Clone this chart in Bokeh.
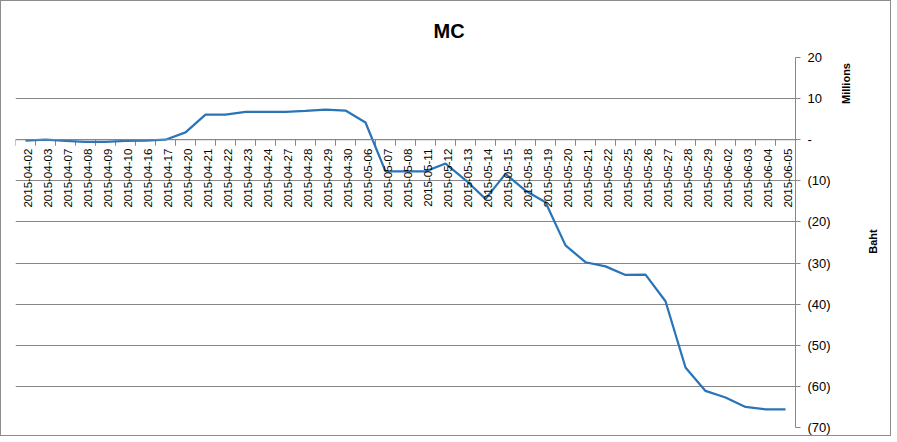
import math
from bokeh.plotting import figure
from bokeh.layouts import row
from bokeh.models import (Range1d, LinearAxis, FixedTicker, CustomJSTickFormatter,
                          Span, ColumnDataSource)
from bokeh.core.properties import value
from bokeh.embed import file_html
from bokeh.resources import INLINE

# ---- data ----
dates = ["2015-04-02", "2015-04-03", "2015-04-07", "2015-04-08", "2015-04-09",
         "2015-04-10", "2015-04-16", "2015-04-17", "2015-04-20", "2015-04-21",
         "2015-04-22", "2015-04-23", "2015-04-24", "2015-04-27", "2015-04-28",
         "2015-04-29", "2015-04-30", "2015-05-06", "2015-05-07", "2015-05-08",
         "2015-05-11", "2015-05-12", "2015-05-13", "2015-05-14", "2015-05-15",
         "2015-05-18", "2015-05-19", "2015-05-20", "2015-05-21", "2015-05-22",
         "2015-05-25", "2015-05-26", "2015-05-27", "2015-05-28", "2015-05-29",
         "2015-06-02", "2015-06-03", "2015-06-04", "2015-06-05"]
mc_millions = [-0.2, 0.0, -0.3, -0.5, -0.5, -0.3, -0.2, 0.0, 1.8, 6.1,
               6.1, 6.8, 6.8, 6.8, 7.0, 7.3, 7.1, 4.2, -7.7, -7.7,
               -7.7, -5.8, -9.8, -14.4, -8.3, -12.4, -15.2, -25.7, -29.8, -30.8,
               -32.9, -32.8, -39.3, -55.4, -61.1, -62.7, -65.0, -65.6, -65.6]
y_ticks = [20, 10, 0, -10, -20, -30, -40, -50, -60, -70]
title_text = "MC"
unit_label = "Millions"
axis_title = "Baht"

n = len(dates)
idx = list(range(n))
bounds = [i - 0.5 for i in range(n + 1)]

W_MAIN, W_SIDE, H = 835, 54, 434
LEFT, TOP, BOTTOM = 14, 56, 8
RIGHT = W_MAIN - 794
frame_h = H - TOP - BOTTOM
y_lo, y_hi = -70, 20
x_lo, x_hi = -0.5, n - 0.5
tick_len = 6 * (y_hi - y_lo) / frame_h


def px_to_y(py):
    return y_hi - (py - TOP) / frame_h * (y_hi - y_lo)


grid_color = "#878787"
line_color = "#2a74b8"
font = "Liberation Sans"

yr = Range1d(y_lo, y_hi)
p = figure(width=W_MAIN, height=H, output_backend="svg", toolbar_location=None,
           x_range=Range1d(x_lo, x_hi), y_range=yr,
           min_border_left=LEFT, min_border_right=RIGHT,
           min_border_top=TOP, min_border_bottom=BOTTOM,
           x_axis_location=None, y_axis_location=None)
p.outline_line_color = None
p.background_fill_color = "white"
p.border_fill_color = "white"

p.title.text = title_text
p.title.align = "left"
p.title.offset = 418
p.title.standoff = 31
p.title.text_font = font
p.title.text_font_size = "20px"
p.title.text_font_style = "bold"
p.title.text_color = "#000000"

ticker = FixedTicker(ticks=y_ticks)
yaxis = LinearAxis(ticker=ticker)
yaxis.formatter = CustomJSTickFormatter(code="""
    if (tick == 0) return "-";
    if (tick < 0) return "(" + (-tick) + ")";
    return "" + tick;
""")
yaxis.axis_line_color = grid_color
yaxis.major_tick_line_color = grid_color
yaxis.major_tick_out = 5
yaxis.major_tick_in = 0
yaxis.minor_tick_line_color = None
yaxis.major_label_standoff = 7
yaxis.major_label_text_font = font
yaxis.major_label_text_font_size = "13px"
yaxis.major_label_text_color = "#000000"
p.add_layout(yaxis, "right")

p.ygrid.ticker = ticker
p.ygrid.grid_line_color = grid_color
p.xgrid.grid_line_color = None

# category axis at zero
p.add_layout(Span(location=0, dimension="width", line_color=grid_color, line_width=1))
p.segment(x0=bounds, y0=[0] * len(bounds), x1=bounds, y1=[-tick_len] * len(bounds),
          line_color=grid_color, line_width=1)

p.line(x=idx, y=mc_millions, line_color=line_color, line_width=2.25)

src = ColumnDataSource(dict(x=idx, y=[0] * n, t=dates))
p.text(x="x", y="y", text="t", source=src, angle=math.pi / 2,
       text_align="right", text_baseline="middle", x_offset=2, y_offset=9,
       text_font=value(font), text_font_size="11.5px", text_color="#000000")

# narrow side panel holding the unit label and the axis title; shares the y range
side = figure(width=W_SIDE, height=H, output_backend="svg", toolbar_location=None,
              x_range=Range1d(0, W_SIDE), y_range=yr,
              min_border_left=0, min_border_right=0,
              min_border_top=TOP, min_border_bottom=BOTTOM,
              x_axis_location=None, y_axis_location=None)
side.outline_line_color = None
side.grid.grid_line_color = None
side.background_fill_color = "white"
side.border_fill_color = "white"
side.text(x=[844 - W_MAIN, 871 - W_MAIN], y=[px_to_y(82), px_to_y(240)],
          text=[unit_label, axis_title],
          angle=math.pi / 2, text_align="center", text_baseline="middle",
          text_font=value(font), text_font_size="11px", text_font_style="bold",
          text_color="#000000")

layout = row(p, side, styles={"border": "1px solid #8c8c8c"})

open("out.html", "w").write(file_html(layout, INLINE))
